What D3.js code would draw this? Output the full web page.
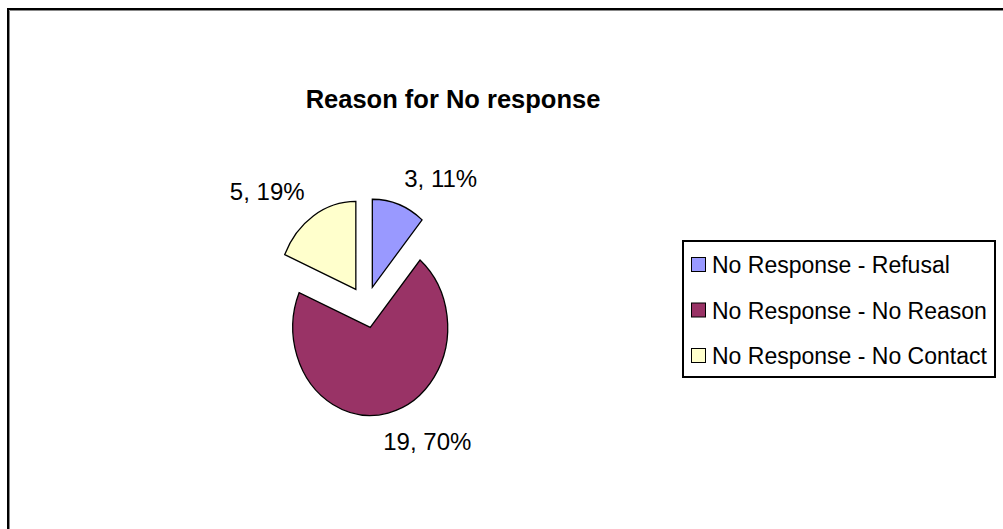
<!DOCTYPE html>
<html>
<head>
<meta charset="utf-8">
<script src="https://cdn.jsdelivr.net/npm/d3@7"></script>
<style>
    body { margin: 0; background: #fff; }
    text { font-family: "Liberation Sans", Arial, sans-serif; }
</style>
</head>
<body>
<svg id="chart" width="1003" height="529"></svg>
<script>
var categories = ["No Response - Refusal", "No Response - No Reason", "No Response - No Contact"];
var values = [3, 19, 5];
var colors = ["#9999ff", "#993366", "#ffffcc"];
var title = "Reason for No response";

var config = {
    cx: 366,
    cy: 307,
    radius: 88,
    squeeze: 0.88,
    explode: 21,
    labelGap: 18,
    labelSize: 24
};

var svg = d3.select("#chart");

// outer frame, runs off the right and bottom edge
svg.append("rect")
    .attr("x", 8).attr("y", 9)
    .attr("width", 1100).attr("height", 600)
    .attr("fill", "#fff")
    .attr("stroke", "#000")
    .attr("stroke-width", 2);
svg.append("path")
    .attr("d", "M9.5,600V10.5H1003")
    .attr("fill", "none")
    .attr("stroke", "#888")
    .attr("stroke-width", 1);

svg.append("text")
    .attr("x", 453)
    .attr("y", 108)
    .attr("text-anchor", "middle")
    .attr("font-size", 25.5)
    .attr("font-weight", "bold")
    .text(title);

var total = d3.sum(values);
var pie = d3.pie().sort(null).value(function (d) { return d; });
var arcs = pie(values);
var arc = d3.arc().innerRadius(0).outerRadius(config.radius);

var g = svg.append("g")
    .attr("transform", "translate(" + config.cx + "," + config.cy + ") scale(" + config.squeeze + ",1)");

g.selectAll("path")
    .data(arcs)
    .enter()
    .append("path")
    .attr("d", arc)
    .attr("transform", function (d) {
        var a = (d.startAngle + d.endAngle) / 2;
        return "translate(" + Math.sin(a) * config.explode + "," + (-Math.cos(a) * config.explode) + ")";
    })
    .attr("fill", function (d, i) { return colors[i]; })
    .attr("stroke", "#000")
    .attr("stroke-width", 1.3)
    .attr("vector-effect", "non-scaling-stroke");

// data labels: box corner sits on a point just outside the slice edge
arcs.forEach(function (d, i) {
    var a = (d.startAngle + d.endAngle) / 2;
    var s = Math.sin(a), c = Math.cos(a);
    var ex = config.cx + s * config.explode * config.squeeze;
    var ey = config.cy - c * config.explode;
    var px = ex + s * (config.radius + config.labelGap) * config.squeeze;
    var py = ey - c * (config.radius + config.labelGap);
    var t = svg.append("text")
        .attr("font-size", config.labelSize)
        .attr("text-anchor", "middle")
        .text(values[i] + ", " + Math.round(values[i] / total * 100) + "%");
    var w = t.node().getComputedTextLength();
    var h = 20;
    var bx = px + (s >= 0 ? 1 : -1) * w / 2 * Math.min(1, Math.abs(s) * 3.5);
    var by = py - (c >= 0 ? 1 : -1) * h / 2;
    t.attr("x", bx).attr("y", by + 9);
});

// legend
var legend = svg.append("g").attr("transform", "translate(683,241)");
legend.append("rect")
    .attr("width", 312).attr("height", 136)
    .attr("fill", "#fff")
    .attr("stroke", "#000")
    .attr("stroke-width", 2);

var rowY = d3.scalePoint().domain(categories).range([24, 115]);

var items = legend.selectAll("g.item")
    .data(categories)
    .enter()
    .append("g")
    .attr("class", "item")
    .attr("transform", function (d) { return "translate(0," + rowY(d) + ")"; });

items.append("rect")
    .attr("x", 8.5).attr("y", -7.5)
    .attr("width", 14).attr("height", 14)
    .attr("fill", function (d, i) { return colors[i]; })
    .attr("stroke", "#000")
    .attr("stroke-width", 1);

items.append("text")
    .attr("x", 29)
    .attr("y", 8)
    .attr("font-size", 23)
    .text(function (d) { return d; });
</script>
</body>
</html>
